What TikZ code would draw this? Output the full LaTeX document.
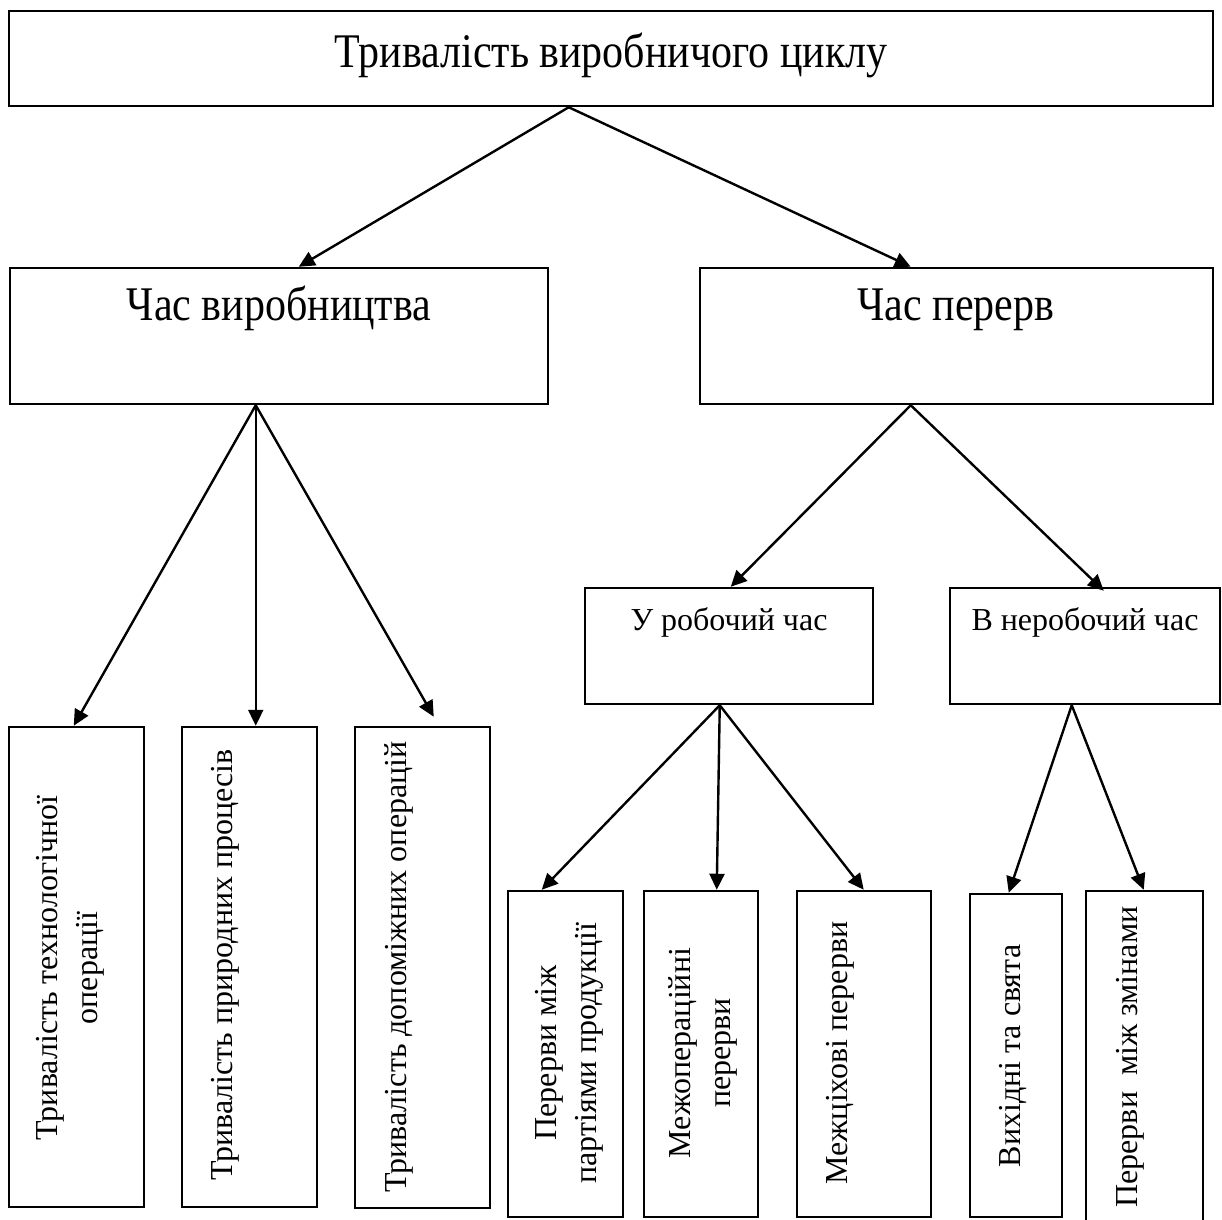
\documentclass[tikz,border=0pt]{standalone}
\usepackage{fontspec}
\usepackage{graphicx}
\setmainfont{Liberation Serif}
\usetikzlibrary{arrows.meta,calc,fit}

% taller lettering for the two upper levels
\newcommand{\tall}[1]{\scalebox{1}[1.15]{#1}}

\begin{document}
\begin{tikzpicture}[x=0.5pt,y=-0.5pt,
  frame/.style={draw, line width=1.25pt, inner sep=0pt},
  link/.style={line width=1.2pt, -{Triangle[length=8pt,width=7.5pt]}},
  big/.style={font=\fontsize{21}{25}\selectfont, inner sep=0pt},
  mid/.style={font=\fontsize{16}{19}\selectfont, inner sep=0pt},
  vert/.style={rotate=90, align=center, font=\fontsize{16}{20}\selectfont, inner sep=0pt}]

\useasboundingbox (0,0) rectangle (1222,1220);

% --- frames ---
\node[frame, fit={(9,11) (1213,106)}]    (cycle) {};
\node[frame, fit={(10,268) (548,404)}]   (prod)  {};
\node[frame, fit={(700,268) (1213,404)}] (brk)   {};
\node[frame, fit={(585,588) (873,704)}]  (work)  {};
\node[frame, fit={(950,588) (1220,704)}] (off)   {};
\node[frame, fit={(9,727) (144,1207)}]   (b1) {};
\node[frame, fit={(182,727) (317,1207)}] (b2) {};
\node[frame, fit={(355,727) (490,1208)}] (b3) {};
\node[frame, fit={(508,891) (623,1217)}] (b4) {};
\node[frame, fit={(644,891) (758,1217)}] (b5) {};
\node[frame, fit={(797,891) (931,1217)}] (b6) {};
\node[frame, fit={(970,894) (1062,1217)}] (b7) {};
\node[frame, fit={(1086,891) (1203,1240)}] (b8) {};

% --- labels ---
\node[big, anchor=base] (cycleT) at (611,68)  {\tall{Тривалість виробничого циклу}};
\node[big, anchor=base] (prodT)  at (279,320) {\tall{Час виробництва}};
\node[big, anchor=base] (brkT)   at (956,320) {\tall{Час перерв}};
\node[mid, anchor=base] (workT)  at (729,630) {У робочий час};
\node[mid, anchor=base] (offT)   at (1085,630) {В неробочий час};

\node[vert] (t1) at (70,968)   {Тривалість технологічної\\операції};
\node[vert] (t2) at (225,965)  {Тривалість природних процесів};
\node[vert] (t3) at (399,967)  {Тривалість допоміжних операцій};
\node[vert] (t4) at (569,1053) {Перерви між\\партіями продукції};
\node[vert] (t5) at (703,1053) {Межопераційні\\перерви};
\node[vert] (t6) at (840,1053) {Межціхові перерви};
\node[vert] (t7) at (1013,1056) {Вихідні та свята};
\node[vert] (t8) at (1130,1057) {Перерви\ \ між змінами};

% --- connectors ---
\draw[link] ($(cycle.south west)+(561,0)$) -- ($(prod.north west)+(290,0)$);
\draw[link] ($(cycle.south west)+(561,0)$) -- ($(brk.north west)+(212,0)$);

\draw[link] ($(prod.south west)+(247,0)$) -- ($(b1.north west)+(66,0)$);
\draw[link] ($(prod.south west)+(247,0)$) -- ($(b2.north west)+(75,0)$);
\draw[link] ($(prod.south west)+(247,0)$) -- ($(b3.north west)+(80,-9)$);

\draw[link] ($(brk.south west)+(212,0)$) -- ($(work.north west)+(147,0)$);
\draw[link] ($(brk.south west)+(212,0)$) -- ($(off.north west)+(155,4)$);

\draw[link] ($(work.south west)+(136,0)$) -- ($(b4.north west)+(35,0)$);
\draw[link] ($(work.south west)+(136,0)$) -- ($(b5.north west)+(74,0)$);
\draw[link] ($(work.south west)+(136,0)$) -- ($(b6.north west)+(68,0)$);

\draw[link] ($(off.south west)+(123,0)$) -- ($(b7.north west)+(40,0)$);
\draw[link] ($(off.south west)+(123,0)$) -- ($(b8.north west)+(59,0)$);
\end{tikzpicture}
\end{document}
